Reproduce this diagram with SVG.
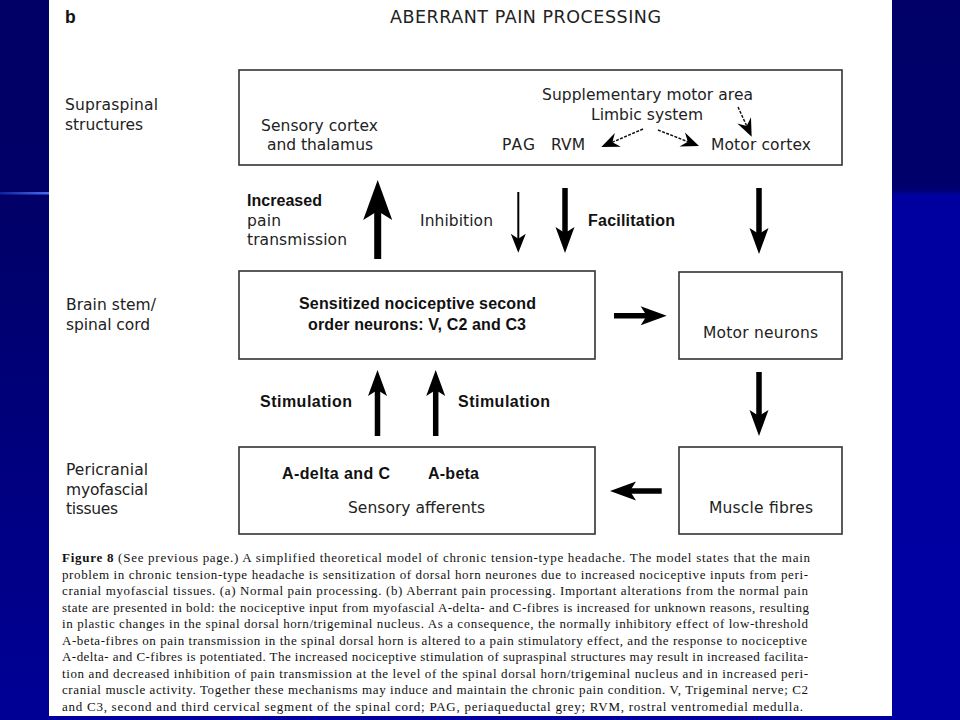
<svg xmlns="http://www.w3.org/2000/svg" width="960" height="720" viewBox="0 0 960 720">
<defs>
<linearGradient id="leftBg" x1="0" y1="0" x2="0" y2="1">
<stop offset="0" stop-color="#000066"/>
<stop offset="0.3" stop-color="#000068"/>
<stop offset="1" stop-color="#000096"/>
</linearGradient>
<linearGradient id="glow" x1="0" y1="0" x2="1" y2="0">
<stop offset="0" stop-color="#10209a"/>
<stop offset="1" stop-color="#4a6ef0"/>
</linearGradient>
<linearGradient id="rightBg" x1="0" y1="0" x2="0" y2="1">
<stop offset="0" stop-color="#000068"/>
<stop offset="0.262" stop-color="#00006c"/>
<stop offset="0.272" stop-color="#0000a0"/>
<stop offset="1" stop-color="#0000a2"/>
</linearGradient>
<marker id="hBig" markerUnits="userSpaceOnUse" viewBox="-41 -16 42 32" refX="-28" refY="0" markerWidth="42" markerHeight="32" orient="auto">
<path d="M0,0 L-40,-14.5 L-31,0 L-40,14.5 Z" fill="#000"/>
</marker>
<marker id="hMed" markerUnits="userSpaceOnUse" viewBox="-27 -11 28 22" refX="-18" refY="0" markerWidth="28" markerHeight="22" orient="auto">
<path d="M0,0 L-26,-9.5 L-20,0 L-26,9.5 Z" fill="#000"/>
</marker>
<marker id="hThin" markerUnits="userSpaceOnUse" viewBox="-20 -9 21 18" refX="-12" refY="0" markerWidth="21" markerHeight="18" orient="auto">
<path d="M0,0 L-19,-7.5 L-14,0 L-19,7.5 Z" fill="#000"/>
</marker>
<marker id="hDash" markerUnits="userSpaceOnUse" viewBox="-19 -9 20 18" refX="-10" refY="0" markerWidth="20" markerHeight="18" orient="auto">
<path d="M0,0 L-18,-7.5 L-12,0 L-18,7.5 Z" fill="#000"/>
</marker>
</defs>
<style>
.box{fill:#fff;stroke:#333;stroke-width:1.6}
.t{font-family:"DejaVu Sans",sans-serif;font-size:15.5px;fill:#222}
.b{font-family:"Liberation Sans",Arial,sans-serif;font-size:16px;font-weight:bold;fill:#111}
.title{font-family:"DejaVu Sans",sans-serif;font-size:17.5px;fill:#222}
.cap{font-family:"Liberation Serif","Times New Roman",serif;font-size:13px;fill:#111}
.big{stroke:#000;stroke-width:7;fill:none;marker-end:url(#hBig)}
.med{stroke:#000;stroke-width:5.5;fill:none;marker-end:url(#hMed)}
.thin{stroke:#000;stroke-width:2;fill:none;marker-end:url(#hThin)}
.dash{stroke:#111;stroke-width:1.5;stroke-dasharray:3 1.4;fill:none;marker-end:url(#hDash)}
</style>
<!-- background -->
<rect x="0" y="0" width="960" height="720" fill="#0000a0"/>
<rect x="0" y="0" width="49" height="720" fill="url(#leftBg)"/>
<rect x="0" y="192" width="49" height="2.5" fill="url(#glow)"/>
<rect x="892" y="0" width="68" height="720" fill="url(#rightBg)"/>
<rect x="49" y="0" width="843" height="716" fill="#ffffff"/>

<!-- headings -->
<text x="65" y="23" class="b" style="font-size:17.5px">b</text>
<text x="390" y="23" class="title" textLength="271">ABERRANT PAIN PROCESSING</text>

<!-- level labels -->
<g id="level-labels">
<text x="65" y="110" class="t" textLength="93">Supraspinal</text>
<text x="65" y="130" class="t" textLength="78">structures</text>
<text x="66" y="310" class="t" textLength="90">Brain stem/</text>
<text x="66" y="330" class="t" textLength="84">spinal cord</text>
<text x="66" y="475" class="t" textLength="82">Pericranial</text>
<text x="66" y="495" class="t" textLength="82">myofascial</text>
<text x="66" y="514" class="t" textLength="52">tissues</text>
</g>

<!-- nodes -->
<g id="supraspinal">
<rect class="box" x="239" y="70" width="603" height="95"/>
<text x="261" y="131" class="t" textLength="117">Sensory cortex</text>
<text x="267" y="150" class="t" textLength="106">and thalamus</text>
<text x="542" y="100" class="t" textLength="211">Supplementary motor area</text>
<text x="591" y="120" class="t" textLength="112">Limbic system</text>
<text x="502" y="150" class="t" textLength="33">PAG</text>
<text x="551" y="150" class="t" textLength="34">RVM</text>
<text x="711" y="150" class="t" textLength="100">Motor cortex</text>
</g>
<g id="second-order-neurons">
<rect class="box" x="239" y="271" width="356" height="88"/>
<text x="299" y="309" class="b" textLength="237">Sensitized nociceptive second</text>
<text x="308" y="330" class="b" textLength="218">order neurons: V, C2 and C3</text>
</g>
<g id="motor-neurons">
<rect class="box" x="679" y="272" width="163" height="87"/>
<text x="703" y="338" class="t" textLength="115">Motor neurons</text>
</g>
<g id="sensory-afferents">
<rect class="box" x="239" y="447" width="356" height="87"/>
<text x="282" y="479" class="b" textLength="108">A-delta and C</text>
<text x="428" y="479" class="b" textLength="51">A-beta</text>
<text x="348" y="513" class="t" textLength="137">Sensory afferents</text>
</g>
<g id="muscle-fibres">
<rect class="box" x="679" y="447" width="163" height="87"/>
<text x="709" y="513" class="t" textLength="104">Muscle fibres</text>
</g>

<!-- connector labels -->
<g id="connector-labels">
<text x="247" y="206" class="b" textLength="75">Increased</text>
<text x="247" y="226" class="t" textLength="34">pain</text>
<text x="247" y="245" class="t" textLength="100">transmission</text>
<text x="420" y="226" class="t" textLength="73">Inhibition</text>
<text x="588" y="226" class="b" textLength="87">Facilitation</text>
<text x="260" y="407" class="b" textLength="92">Stimulation</text>
<text x="458" y="407" class="b" textLength="92">Stimulation</text>
</g>

<!-- connectors -->
<g id="connectors">
<line class="big" x1="377.7" y1="259" x2="377.7" y2="208"/>
<line class="thin" x1="518.3" y1="192" x2="518.3" y2="240.7"/>
<line class="med" x1="565" y1="188" x2="565" y2="235"/>
<line class="med" x1="759" y1="188" x2="759" y2="236"/>
<line class="med" x1="614" y1="315.7" x2="648.7" y2="315.7"/>
<line class="med" x1="759" y1="372" x2="759" y2="418"/>
<line class="med" x1="661.7" y1="491" x2="628" y2="491"/>
<line class="med" x1="377.5" y1="436" x2="377.5" y2="388"/>
<line class="med" x1="435.7" y1="436" x2="435.7" y2="388"/>
<line class="dash" x1="643" y1="129" x2="610.5" y2="143"/>
<line class="dash" x1="658" y1="130" x2="689.7" y2="142.4"/>
<line class="dash" x1="738" y1="107" x2="747.5" y2="127.7"/>
</g>

<!-- caption -->
<g id="caption">
<text x="62" y="562" class="cap" textLength="748"><tspan font-weight="bold">Figure 8</tspan> (See previous page.) A simplified theoretical model of chronic tension-type headache. The model states that the main</text>
<text x="62" y="578.5" class="cap" textLength="746">problem in chronic tension-type headache is sensitization of dorsal horn neurones due to increased nociceptive inputs from peri-</text>
<text x="62" y="595" class="cap" textLength="746">cranial myofascial tissues. (a) Normal pain processing. (b) Aberrant pain processing. Important alterations from the normal pain</text>
<text x="62" y="611.5" class="cap" textLength="747">state are presented in bold: the nociceptive input from myofascial A-delta- and C-fibres is increased for unknown reasons, resulting</text>
<text x="62" y="628" class="cap" textLength="746">in plastic changes in the spinal dorsal horn/trigeminal nucleus. As a consequence, the normally inhibitory effect of low-threshold</text>
<text x="62" y="644.5" class="cap" textLength="745">A-beta-fibres on pain transmission in the spinal dorsal horn is altered to a pain stimulatory effect, and the response to nociceptive</text>
<text x="62" y="661" class="cap" textLength="746">A-delta- and C-fibres is potentiated. The increased nociceptive stimulation of supraspinal structures may result in increased facilita-</text>
<text x="62" y="677.5" class="cap" textLength="746">tion and decreased inhibition of pain transmission at the level of the spinal dorsal horn/trigeminal nucleus and in increased peri-</text>
<text x="62" y="694" class="cap" textLength="746">cranial muscle activity. Together these mechanisms may induce and maintain the chronic pain condition. V, Trigeminal nerve; C2</text>
<text x="62" y="710.5" class="cap" textLength="741">and C3, second and third cervical segment of the spinal cord; PAG, periaqueductal grey; RVM, rostral ventromedial medulla.</text>
</g>
</svg>
